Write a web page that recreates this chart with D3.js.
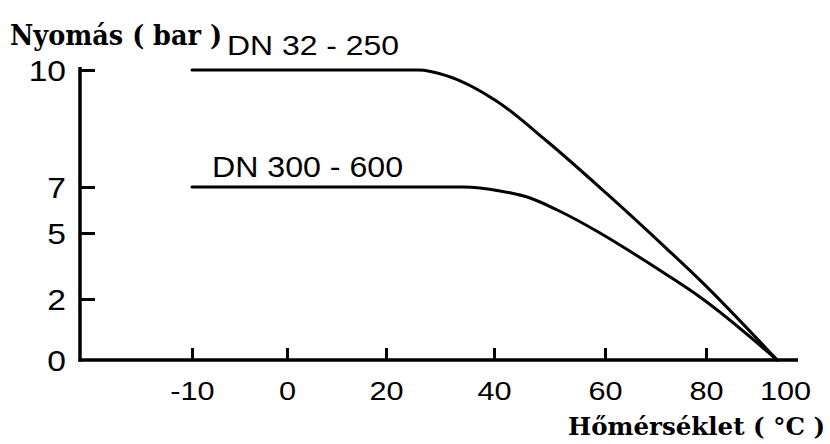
<!DOCTYPE html>
<html>
<head>
<meta charset="utf-8">
<script src="https://cdn.jsdelivr.net/npm/d3@7"></script>
<style>
  html, body { margin: 0; padding: 0; background: #fff; }
  svg { display: block; }
</style>
</head>
<body>
<svg id="chart" width="830" height="444"></svg>
<script>
// ---- data ----
const xTicks = [-10, 0, 20, 40, 60, 80, 100];
const yTicks = [0, 2, 5, 7, 10];
const seriesNames = ["DN 32 - 250", "DN 300 - 600"];
// temperature (°C)
const tempSmall = [-10, 26, 31.3, 40.5, 49.5, 60.4, 72.3, 78.8, 98];
// pressure (bar)
const presSmall = [10, 10, 9.85, 9.2, 8.18, 6.7, 4.27, 2.86, 0];
const tempLarge = [-10, 34.3, 41.1, 46.5, 51.4, 59.1, 65.5, 72.3, 78.8, 98];
const presLarge = [7, 7, 6.83, 6.52, 6.0, 5.0, 4.09, 3.09, 2.09, 0];
const yTitle = "Nyomás ( bar )";
const xTitle = "Hőmérséklet ( °C )";

// ---- scales (the printed axes are not evenly spaced) ----
const x = d3.scaleLinear().domain(xTicks).range([192, 287, 386, 494, 605, 706, 785]);
const y = d3.scaleLinear().domain(yTicks).range([360, 299, 233, 187, 70]);
const axisX = 80;           // y-axis position
const axisY = y(0);         // x-axis position

const svg = d3.select("#chart");
const sans = "'Liberation Sans', Arial, sans-serif";
const serif = "'DejaVu Serif', serif";

// ---- axes ----
const xAxis = d3.axisBottom(x).tickValues(xTicks).tickFormat(d => String(d))
  .tickSizeInner(-12).tickSizeOuter(0).tickPadding(22);
const gx = svg.append("g").attr("transform", `translate(0,${axisY})`).call(xAxis);
gx.select(".domain").remove();
gx.selectAll(".tick line").attr("stroke", "#000").attr("stroke-width", 3)
  .filter(d => d === 100).remove();
gx.selectAll(".tick text")
  .attr("font-family", sans).attr("font-size", 26).attr("fill", "#000")
  .attr("transform", "scale(1.18,1)");

const yAxis = d3.axisLeft(y).tickValues(yTicks).tickFormat(d => String(d))
  .tickSizeInner(-15).tickSizeOuter(0).tickPadding(0);
const gy = svg.append("g").attr("transform", `translate(${axisX},0)`).call(yAxis);
gy.select(".domain").remove();
gy.selectAll(".tick line").attr("stroke", "#000").attr("stroke-width", 3)
  .filter(d => d === 0).remove();
gy.selectAll(".tick text")
  .attr("x", 0).attr("dy", "0.36em")
  .attr("font-family", sans).attr("font-size", 30).attr("fill", "#000")
  .attr("transform", "translate(-14,0) scale(1.12,1)");

// axis lines
svg.append("line").attr("x1", axisX).attr("x2", axisX)
  .attr("y1", y(10) - 3).attr("y2", axisY + 1.5)
  .attr("stroke", "#000").attr("stroke-width", 3.5);
svg.append("line").attr("x1", axisX - 1.5).attr("x2", x(100) + 13)
  .attr("y1", axisY).attr("y2", axisY)
  .attr("stroke", "#000").attr("stroke-width", 3.5);

// ---- curves ----
const line = d3.line().x(d => x(d[0])).y(d => y(d[1])).curve(d3.curveMonotoneX);
const series = [
  d3.zip(tempSmall, presSmall),
  d3.zip(tempLarge, presLarge)
];
svg.selectAll("path.curve").data(series).join("path")
  .attr("class", "curve")
  .attr("d", line)
  .attr("fill", "none").attr("stroke", "#000").attr("stroke-width", 3)
  .attr("stroke-linejoin", "round").attr("stroke-linecap", "round");

// ---- series labels ----
svg.append("text").text(seriesNames[0])
  .attr("x", 227).attr("y", 55)
  .attr("font-family", sans).attr("font-size", 28).attr("fill", "#000")
  .attr("textLength", 172).attr("lengthAdjust", "spacingAndGlyphs");
svg.append("text").text(seriesNames[1])
  .attr("x", 212).attr("y", 177)
  .attr("font-family", sans).attr("font-size", 29).attr("fill", "#000")
  .attr("textLength", 191).attr("lengthAdjust", "spacingAndGlyphs");

// ---- axis titles ----
svg.append("text").text(yTitle)
  .attr("x", 10).attr("y", 45)
  .attr("font-family", serif).attr("font-weight", "bold").attr("font-size", 27).attr("fill", "#000")
  .attr("textLength", 212).attr("lengthAdjust", "spacingAndGlyphs");
svg.append("text").text(xTitle)
  .attr("x", 825).attr("y", 435).attr("text-anchor", "end")
  .attr("font-family", serif).attr("font-weight", "bold").attr("font-size", 24.5).attr("fill", "#000");
</script>
</body>
</html>
